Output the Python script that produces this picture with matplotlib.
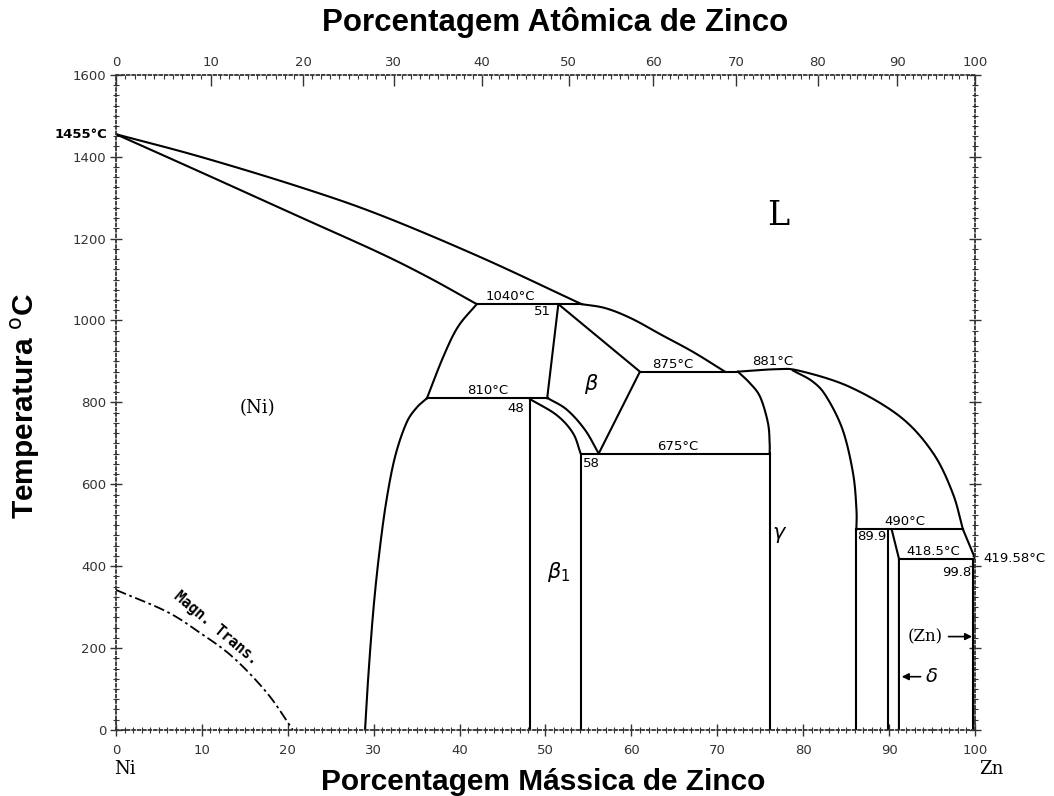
import numpy as np
import matplotlib
matplotlib.use("Agg")
import matplotlib.pyplot as plt
from matplotlib.ticker import MultipleLocator, FixedLocator

# Ni-Zn phase diagram (wt% Zn, deg C)
liq_ni_x = [0, 9.8, 21.4, 30.7, 42.4, 54.2]
liq_ni_t = [1455, 1400, 1326, 1258, 1155, 1040]
sol_ni_x = [0, 9.8, 21.4, 30.7, 36.5, 42.0]
sol_ni_t = [1455, 1363, 1253, 1165, 1104, 1040]
ni_upper_x = [42.0, 39.8, 38.1, 36.2]
ni_upper_t = [1040, 984, 911, 810]
solvus_x = [36.2, 35.0, 33.8, 32.5, 31.5, 30.7, 30.0, 29.4, 29.0]
solvus_t = [810, 787, 749, 668, 562, 440, 301, 138, 0]
beta_liq_x = [54.2, 57.0, 60.0, 63.5, 67.2, 70.9]
beta_liq_t = [1040, 1030, 1005, 965, 923, 875]
beta_left_x = [51.5, 50.2]
beta_left_t = [1040, 810]
beta_right_x = [51.5, 61.0, 56.2]
beta_right_t = [1040, 875, 675]
beta1_top_x = [48.2, 51.3, 53.2, 54.1]
beta1_top_t = [808, 769, 725, 675]
beta_low_x = [50.3, 52.5, 54.6, 56.2]
beta_low_t = [810, 782, 733, 675]
gam_liq_x = [72.4, 76.9, 79.6, 85.4, 91.3, 95.1, 97.4, 98.6]
gam_liq_t = [875, 881, 877, 838, 765, 677, 579, 490]
zn_liq_x = [98.6, 100]
zn_liq_t = [490, 419.58]
gam_left_x = [72.4, 73.8, 75.0, 75.9, 76.1, 76.1, 76.1]
gam_left_t = [875, 847, 813, 750, 700, 677, 0]
gam_right_x = [78.8, 81.1, 82.7, 84.6, 85.8, 86.2, 86.2, 86.2]
gam_right_t = [878, 851, 814, 733, 628, 540, 490, 0]
delta_left_x = [89.9, 89.9]
delta_left_t = [490, 0]
delta_right_x = [90.3, 91.15, 91.15]
delta_right_t = [490, 418.5, 0]
zn_x = [99.8, 99.8]
zn_t = [418.5, 0]
magn_x = [0, 5.9, 9.8, 13.6, 17.6, 20.6]
magn_t = [342, 289, 237, 178, 90, 0]

# invariant lines: (x0, x1, T)
isotherms = [(42.0, 54.2, 1040), (36.2, 50.3, 810), (61.0, 72.4, 875),
             (54.1, 76.1, 675), (86.2, 98.6, 490), (91.15, 100, 418.5)]
beta1_left = (48.2, 808)
beta1_right = (54.1, 675)

M_NI, M_ZN = 58.69, 65.38


def wt_to_at(w):
    w = np.clip(np.asarray(w, dtype=float), 0, 100)
    nz = w / M_ZN
    nn = (100 - w) / M_NI
    return 100 * nz / (nz + nn)


def at_to_wt(a):
    a = np.clip(np.asarray(a, dtype=float), 0, 100)
    mz = a * M_ZN
    mn = (100 - a) * M_NI
    return 100 * mz / (mz + mn)


def smooth(xs, ts, n=20):
    # catmull-rom through the read points, only for drawing
    p = np.column_stack([xs, ts]).astype(float)
    p = np.vstack([2 * p[0] - p[1], p, 2 * p[-1] - p[-2]])
    out = []
    u = np.linspace(0, 1, n, endpoint=False)[:, None]
    for i in range(1, len(p) - 2):
        p0, p1, p2, p3 = p[i - 1], p[i], p[i + 1], p[i + 2]
        out.append(0.5 * ((2 * p1) + (-p0 + p2) * u + (2 * p0 - 5 * p1 + 4 * p2 - p3) * u ** 2
                          + (-p0 + 3 * p1 - 3 * p2 + p3) * u ** 3))
    out.append(p[-2][None, :])
    out = np.vstack(out)
    return out[:, 0], out[:, 1]


fig = plt.figure(figsize=(10.54, 7.96), dpi=100)
ax = fig.add_axes([0.110, 0.083, 0.815, 0.823])
ax.set_xlim(0, 100)
ax.set_ylim(0, 1600)

lw = 1.5
k = 'black'
curves = [(liq_ni_x, liq_ni_t), (sol_ni_x, sol_ni_t), (ni_upper_x, ni_upper_t),
          (solvus_x, solvus_t), (beta_liq_x, beta_liq_t), (beta1_top_x, beta1_top_t),
          (beta_low_x, beta_low_t), (gam_liq_x, gam_liq_t), (gam_left_x[:6], gam_left_t[:6]),
          (gam_right_x[:7], gam_right_t[:7])]
for xs, ts in curves:
    sx, st = smooth(xs, ts)
    ax.plot(sx, st, color=k, lw=lw, solid_joinstyle='round')
straights = [(beta_left_x, beta_left_t), (beta_right_x, beta_right_t),
             (zn_liq_x, zn_liq_t), (gam_left_x[5:], gam_left_t[5:]),
             (gam_right_x[6:], gam_right_t[6:]), (delta_left_x, delta_left_t),
             (delta_right_x, delta_right_t), (zn_x, zn_t)]
for xs, ts in straights:
    ax.plot(xs, ts, color=k, lw=lw)
for x0, x1, t in isotherms:
    ax.plot([x0, x1], [t, t], color=k, lw=lw)
ax.plot([beta1_left[0]] * 2, [beta1_left[1], 0], color=k, lw=lw)
ax.plot([beta1_right[0]] * 2, [beta1_right[1], 0], color=k, lw=lw)
mx, mt = smooth(magn_x, magn_t)
ax.plot(mx, mt, color=k, lw=1.3, ls=(0, (6, 2, 1.5, 2)))

# frame: dotted look
for s in ax.spines.values():
    s.set_linestyle((0, (1.5, 1.5)))
    s.set_linewidth(1.3)
    s.set_color('#333333')

ax.xaxis.set_major_locator(MultipleLocator(10))
ax.xaxis.set_minor_locator(MultipleLocator(1))
ax.yaxis.set_major_locator(MultipleLocator(200))
ax.yaxis.set_minor_locator(MultipleLocator(25))
ax.tick_params(which='major', direction='inout', length=8, width=1, color='#333333',
               labelsize=9.5, labelcolor='#333333', right=True)
ax.tick_params(which='minor', direction='inout', length=4, width=0.8, color='#333333',
               right=True)
ax.tick_params(axis='x', pad=6)
ax.tick_params(axis='y', pad=3)

top = ax.secondary_xaxis('top', functions=(wt_to_at, at_to_wt))
top.xaxis.set_major_locator(FixedLocator(np.arange(0, 101, 10)))
top.xaxis.set_minor_locator(FixedLocator(np.arange(0, 101, 1)))
top.tick_params(which='major', direction='in', length=8, width=1, color='#333333',
                labelsize=9.5, labelcolor='#333333', pad=4)
top.tick_params(which='minor', direction='in', length=3, width=0.8, color='#333333')
top.spines['top'].set_visible(False)

# titles
tfont = dict(family='Liberation Sans', weight='bold')
fig.text(0.527, 0.972, 'Porcentagem Atômica de Zinco', ha='center', va='center',
         size=22.5, **tfont)
fig.text(0.515, 0.018, 'Porcentagem Mássica de Zinco', ha='center', va='center',
         size=21.5, **tfont)
fig.text(0.024, 0.49, 'Temperatura $^{\\mathrm{o}}$C', ha='center', va='center',
         rotation=90, size=21.5, **tfont)

# labels on the diagram
lab = dict(family='DejaVu Sans', size=9.5, color='black')
ax.text(-1.0, 1455, '1455°C', ha='right', va='center', fontweight='bold', clip_on=False, **lab)
ax.text(101.0, 418, '419.58°C', ha='left', va='center', clip_on=False, **lab)
ax.text(45.9, 1043, '1040°C', ha='center', va='bottom', **lab)
ax.text(49.6, 1022, '51', ha='center', va='center', **lab)
ax.text(43.3, 813, '810°C', ha='center', va='bottom', **lab)
ax.text(46.5, 786, '48', ha='center', va='center', **lab)
ax.text(64.8, 877, '875°C', ha='center', va='bottom', **lab)
ax.text(76.5, 884, '881°C', ha='center', va='bottom', **lab)
ax.text(65.4, 677, '675°C', ha='center', va='bottom', **lab)
ax.text(55.4, 650, '58', ha='center', va='center', **lab)
ax.text(91.9, 492, '490°C', ha='center', va='bottom', **lab)
ax.text(88.0, 472, '89.9', ha='center', va='center', **lab)
ax.text(95.2, 420, '418.5°C', ha='center', va='bottom', **lab)
ax.text(97.9, 385, '99.8', ha='center', va='center', **lab)

ser = dict(family='DejaVu Serif', color='black')
ax.text(77.1, 1255, 'L', ha='center', va='center', size=24, **ser)
ax.text(16.5, 785, '(Ni)', ha='center', va='center', size=13, **ser)
ax.text(55.4, 845, r'$\beta$', ha='center', va='center', size=15)
ax.text(51.5, 385, r'$\beta_1$', ha='center', va='center', size=15)
ax.text(77.3, 475, r'$\gamma$', ha='center', va='center', size=15)
ax.text(94.2, 228, '(Zn)', ha='center', va='center', size=12, **ser)
ax.annotate('', xy=(100, 228), xytext=(96.6, 228),
            arrowprops=dict(arrowstyle='-|>', color='black', lw=1.2, mutation_scale=10))
ax.text(95.0, 130, r'$\delta$', ha='center', va='center', size=14)
ax.annotate('', xy=(91.15, 130), xytext=(94.0, 130),
            arrowprops=dict(arrowstyle='-|>', color='black', lw=1.2, mutation_scale=10))
ax.text(11.6, 248, 'Magn. Trans.', ha='center', va='center', rotation=-40,
        family='DejaVu Sans Mono', weight='bold', size=10.5)

ax.text(1.0, -95, 'Ni', ha='center', va='center', size=13, clip_on=False, **ser)
ax.text(101.9, -95, 'Zn', ha='center', va='center', size=13, clip_on=False, **ser)

fig.savefig('out.png', dpi=100, facecolor='white')
